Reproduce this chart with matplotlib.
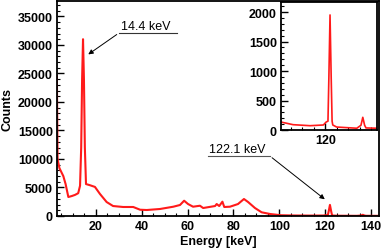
#!/usr/bin/env python3
"""Energy spectrum with 14.4 keV and 122.1 keV lines, plus zoomed inset."""

from __future__ import annotations

import matplotlib

matplotlib.use("Agg")
import matplotlib.pyplot as plt
from matplotlib.ticker import MultipleLocator, FixedLocator

# spectrum (keV, counts)
energy_kev = [
    3.0, 3.3, 4.1, 5.8, 6.8, 8.0, 9.5, 10.9, 12.3, 13.1, 13.6, 14.0, 14.4,
    14.8, 15.2, 15.7, 17.4, 19.6, 21.8, 24.7, 27.5, 31.9, 36.3, 39.3, 42.2,
    48.0, 53.8, 56.7, 58.5, 60.2, 62.4, 65.4, 66.8, 72.0, 72.7, 73.8, 75.2,
    76.0, 78.5, 82.0, 84.6, 86.4, 89.4, 92.3, 96.0, 100.7, 106.0, 113.4,
    119.2, 120.4, 121.2, 121.6, 122.1, 122.6, 123.0, 123.3, 125.0, 133.8,
    135.6, 136.4, 137.2, 137.8, 142.5, 143.5,
]
counts = [
    24500, 10000, 8400, 7000, 5600, 3330, 3500, 3700, 4000, 5300, 12000,
    24000, 31000, 24000, 12000, 5600, 5400, 5100, 3860, 2450, 1750, 1580,
    1580, 1100, 1050, 1230, 1630, 1930, 2680, 2100, 1630, 1800, 1400, 1750,
    2100, 1750, 2510, 1580, 1630, 2100, 2980, 2450, 1400, 650, 350, 135,
    90, 73, 85, 135, 150, 900, 1950, 900, 150, 85, 50, 30, 80, 215, 80, 35,
    30, 30,
]

peak_labels = ["14.4 keV", "122.1 keV"]

y_ticks_main = [0, 5000, 10000, 15000, 20000, 25000, 30000, 35000]
x_ticks_main = [20, 40, 60, 80, 100, 120, 140]
y_ticks_inset = [0, 500, 1000, 1500, 2000]
x_ticks_inset = [120]

RED = "#ff1a1a"


def configure_matplotlib() -> None:
    plt.rcParams.update(
        {
            "font.family": ["Liberation Sans", "DejaVu Sans"],
            "font.size": 9,
            "axes.linewidth": 1.3,
            "xtick.direction": "in",
            "ytick.direction": "in",
            "xtick.major.size": 5,
            "ytick.major.size": 5,
            "xtick.minor.size": 2.5,
            "ytick.minor.size": 2.5,
            "xtick.major.width": 1.0,
            "ytick.major.width": 1.0,
            "xtick.minor.width": 0.8,
            "ytick.minor.width": 0.8,
            "xtick.major.pad": 3,
            "ytick.major.pad": 3,
        }
    )


def style_axis(ax) -> None:
    for lab in ax.get_xticklabels() + ax.get_yticklabels():
        lab.set_fontweight("bold")
    ax.tick_params(which="both", top=False, right=False)


def main() -> None:
    configure_matplotlib()
    fig = plt.figure(figsize=(3.82, 2.51), dpi=100)

    ax = fig.add_axes([57 / 382, 34 / 251, 322 / 382, 215 / 251])
    ax.plot(energy_kev, counts, color=RED, lw=1.5)
    ax.set_xlim(3.05, 143.5)
    ax.set_ylim(0, 37700)
    ax.xaxis.set_major_locator(FixedLocator(x_ticks_main))
    ax.xaxis.set_minor_locator(MultipleLocator(5))
    ax.yaxis.set_major_locator(FixedLocator(y_ticks_main))
    ax.yaxis.set_minor_locator(MultipleLocator(1000))
    style_axis(ax)
    ax.set_xlabel("Energy [keV]", fontweight="bold", labelpad=2)
    ax.set_ylabel("Counts", fontweight="bold", labelpad=3)

    # 14.4 keV annotation: underlined label with arrow to the peak
    ax.text(31.0, 32300, peak_labels[0], ha="left", va="bottom")
    ax.plot([30.1, 55.4], [32100, 32100], color="#333333", lw=0.8)
    ax.annotate(
        "",
        xy=(15.7, 28060),
        xytext=(30.1, 32100),
        arrowprops=dict(arrowstyle="-|>", color="black", lw=0.7, mutation_scale=7),
    )

    # 122.1 keV annotation
    ax.text(69.3, 10700, peak_labels[1], ha="left", va="bottom")
    ax.plot([68.9, 95.9], [10520, 10520], color="#555555", lw=0.8)
    ax.annotate(
        "",
        xy=(120.8, 2630),
        xytext=(95.9, 10520),
        arrowprops=dict(arrowstyle="-|>", color="black", lw=0.7, mutation_scale=7),
    )

    # inset zoom on the 122.1 keV line
    ins = fig.add_axes([281 / 382, 120 / 251, 96 / 382, 128 / 251])
    ins.plot(energy_kev, counts, color=RED, lw=1.2)
    ins.set_xlim(100.7, 142.6)
    ins.set_ylim(0, 2170)
    ins.xaxis.set_major_locator(FixedLocator(x_ticks_inset))
    ins.xaxis.set_minor_locator(MultipleLocator(5))
    ins.yaxis.set_major_locator(FixedLocator(y_ticks_inset))
    ins.yaxis.set_minor_locator(MultipleLocator(100))
    style_axis(ins)

    fig.savefig("out.png", dpi=100)
    plt.close(fig)


if __name__ == "__main__":
    main()
